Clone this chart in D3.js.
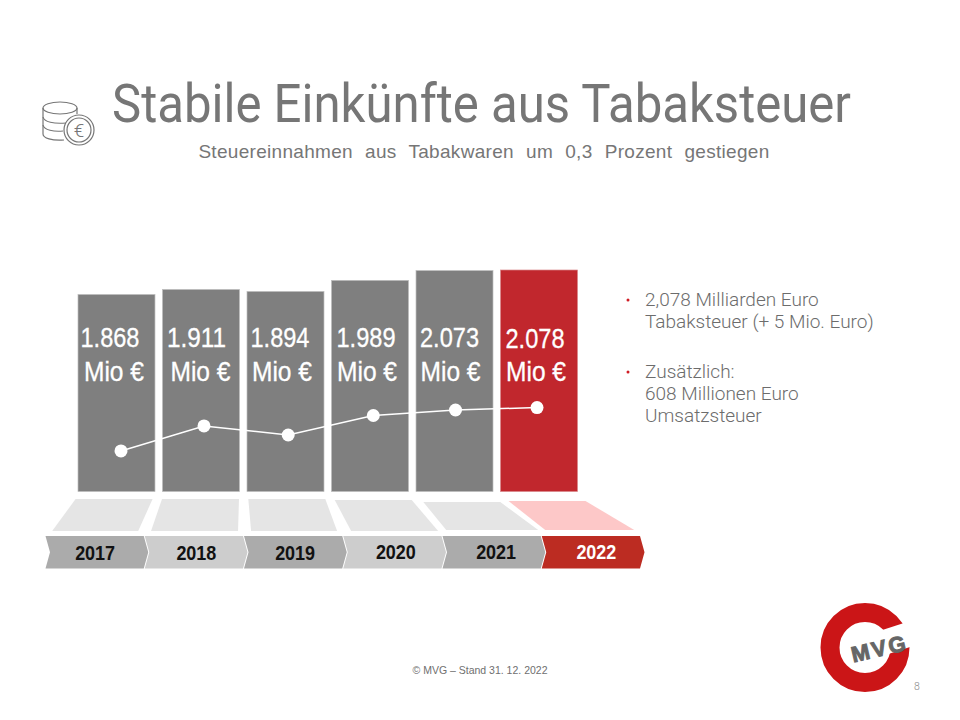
<!DOCTYPE html>
<html>
<head>
<meta charset="utf-8">
<script src="https://cdn.jsdelivr.net/npm/d3@7"></script>
<style>
  body { margin: 0; background: #fff; }
  svg { display: block; }
</style>
</head>
<body>
<script>
const w = 960;
const h = 720;

// data
const years = ['2017', '2018', '2019', '2020', '2021', '2022'];
const taxMio = [1868, 1911, 1894, 1989, 2073, 2078];
const trendLevel = [18.3, 29.6, 25.5, 34.3, 36.8, 37.9]; // white line, 0-100 of bar area
const bulletLines = [
  ['2,078 Milliarden Euro', 'Tabaksteuer (+ 5 Mio. Euro)'],
  ['Zusätzlich:', '608 Millionen Euro', 'Umsatzsteuer']
];

// hand placed bits of the slide, per year
const numberNudge = [-6.5, -4.5, -5.5, -4, -5, -4];
const mioNudge = [-2.5, -0.5, -3.5, -3, -4, -3];
const trendNudge = [4.5, 3, 2.7, 3.3, 1, -2];
const yearNudge = [0, 2, 1.5, 3, 4, 5];
const floorTop = [[-2.4, 499], [-0.5, 499], [1.3, 499], [3.2, 500], [7.3, 502], [8, 501]];
const floorBottom = [[6.7, 86, 531], [6.3, 87, 531], [7.1, 86, 531], [7.9, 87, 531], [3.7, 92, 530], [3.5, 89, 530]];

const grey = '#7f7f7f';
const red = '#c1272d';
const textGrey = '#767676';

const svg = d3.select('body').append('svg').attr('width', w).attr('height', h);

// scales
const xScale = d3.scaleBand().domain(years).range([78, 577.5]).paddingInner(0.089).paddingOuter(0);
const yScale = d3.scaleLinear().domain([180, 2078]).range([491.5, 270]); // bars are cut off, not from zero
const trendY = d3.scaleLinear().domain([0, 100]).range([491.5, 270]);
const ribbonX = d3.scaleBand().domain(years).range([45.5, 641]);
const de = d3.formatLocale({ decimal: ',', thousands: '.', grouping: [3], currency: ['', '€'] });
const fmt = de.format(',d');

// title
svg.append('text').attr('x', 112).attr('y', 122)
  .attr('textLength', 739).attr('lengthAdjust', 'spacingAndGlyphs')
  .style('font', '400 53px Roboto').attr('fill', textGrey)
  .text('Stabile Einkünfte aus Tabaksteuer');
svg.append('text').attr('x', 484).attr('y', 158).attr('text-anchor', 'middle')
  .style('font', '19px "Liberation Sans"').style('letter-spacing', '0.3px').style('word-spacing', '6.6px')
  .attr('fill', textGrey)
  .text('Steuereinnahmen aus Tabakwaren um 0,3 Prozent gestiegen');

// coin icon
const icon = svg.append('g').attr('fill', 'none').attr('stroke', textGrey).attr('stroke-width', 1.2);
icon.append('path').attr('d', 'M43,108 V134 C43,138 52,141 64,140');
icon.append('path').attr('d', 'M77,108 V114');
icon.append('ellipse').attr('cx', 60).attr('cy', 108).attr('rx', 17).attr('ry', 6);
icon.append('path').attr('d', 'M43,117 C44,122 54,124 66,123');
icon.append('path').attr('d', 'M43,125 C44,130 54,132 63,131');
icon.append('circle').attr('cx', 79).attr('cy', 130).attr('r', 15).attr('fill', '#fff');
icon.append('circle').attr('cx', 79).attr('cy', 130).attr('r', 12);
icon.append('text').attr('x', 79).attr('y', 136.5).attr('text-anchor', 'middle').attr('stroke', 'none')
  .attr('fill', textGrey).style('font', '300 19px Roboto').text('€');

// bars
svg.selectAll('rect.bar').data(years).enter().append('rect')
  .attr('class', 'bar')
  .attr('x', d => xScale(d))
  .attr('y', (d, i) => yScale(taxMio[i]))
  .attr('width', xScale.bandwidth())
  .attr('height', (d, i) => yScale.range()[0] - yScale(taxMio[i]))
  .attr('fill', (d, i) => i === 5 ? red : grey)
  .attr('stroke', (d, i) => i === 5 ? '#d9888b' : '#bdbdbd')
  .attr('stroke-width', 0.7);

// bar labels, squeezed since no narrow font is around
const labelFont = '27.5px "Liberation Sans"';
svg.selectAll('text.num').data(years).enter().append('text')
  .attr('class', 'num')
  .attr('x', (d, i) => xScale(d) + xScale.bandwidth() / 2 + numberNudge[i])
  .attr('y', (d, i) => i === 5 ? 348 : 347)
  .attr('text-anchor', 'middle').attr('fill', '#fff').attr('stroke', '#fff').attr('stroke-width', 0.3)
  .style('font', labelFont)
  .attr('textLength', 59).attr('lengthAdjust', 'spacingAndGlyphs')
  .text((d, i) => fmt(taxMio[i]));
svg.selectAll('text.mio').data(years).enter().append('text')
  .attr('class', 'mio')
  .attr('x', (d, i) => xScale(d) + xScale.bandwidth() / 2 + mioNudge[i])
  .attr('y', 381)
  .attr('text-anchor', 'middle').attr('fill', '#fff').attr('stroke', '#fff').attr('stroke-width', 0.3)
  .style('font', labelFont)
  .attr('textLength', 60).attr('lengthAdjust', 'spacingAndGlyphs')
  .text('Mio €');

// trend line
const trendXAt = i => xScale(years[i]) + xScale.bandwidth() / 2 + trendNudge[i];
const line = d3.line().x((d, i) => trendXAt(i)).y(d => trendY(d));
svg.append('path').attr('d', line(trendLevel)).attr('fill', 'none').attr('stroke', '#fff').attr('stroke-width', 1.5);
svg.selectAll('circle.dot').data(trendLevel).enter().append('circle')
  .attr('class', 'dot')
  .attr('cx', (d, i) => trendXAt(i))
  .attr('cy', d => trendY(d))
  .attr('r', 6.5)
  .attr('fill', '#fff');

// perspective floor under the bars
svg.selectAll('polygon.floor').data(years).enter().append('polygon')
  .attr('class', 'floor')
  .attr('points', (d, i) => {
    const x0 = xScale(d) + floorTop[i][0];
    const x1 = x0 + xScale.bandwidth();
    const yTop = floorTop[i][1];
    const bx = ribbonX(d) + floorBottom[i][0];
    const bx1 = bx + floorBottom[i][1];
    const yBot = floorBottom[i][2];
    return [[x0, yTop], [x1, yTop], [bx1, yBot], [bx, yBot]].join(' ');
  })
  .attr('fill', (d, i) => i === 5 ? '#fdc8c8' : '#e5e5e5');

// year ribbon
const ribbonTop = 536;
const ribbonBot = 568.5;
const tip = 4.5;
const ribbonPath = (d, i) => {
  const a = ribbonX(d);
  const b = a + ribbonX.bandwidth() - 1;
  const m = (ribbonTop + ribbonBot) / 2;
  return `M${a},${ribbonTop} L${b},${ribbonTop} L${b + tip},${m} L${b},${ribbonBot} L${a},${ribbonBot} L${a + tip},${m} Z`;
};
svg.selectAll('path.step').data(years).enter().append('path')
  .attr('class', 'step')
  .attr('d', ribbonPath)
  .attr('fill', (d, i) => i === 5 ? '#bc2c22' : (i % 2 ? '#cdcdcd' : '#ababab'));
svg.selectAll('text.year').data(years).enter().append('text')
  .attr('class', 'year')
  .attr('x', (d, i) => ribbonX(d) + ribbonX.bandwidth() / 2 + yearNudge[i])
  .attr('y', (d, i) => i < 3 ? 559.5 : 558.5)
  .attr('text-anchor', 'middle')
  .attr('fill', (d, i) => i === 5 ? '#fff' : '#111')
  .style('font', 'bold 19.5px "Liberation Sans"')
  .attr('textLength', 40).attr('lengthAdjust', 'spacingAndGlyphs')
  .text(d => d);

// side notes
const bulletY = [306, 378];
bulletLines.forEach((lines, k) => {
  svg.append('circle').attr('cx', 628).attr('cy', bulletY[k] - 6).attr('r', 1.5).attr('fill', '#d01c24');
  lines.forEach((t, j) => {
    svg.append('text').attr('x', 645).attr('y', bulletY[k] + j * 22)
      .style('font', '300 19px Roboto').attr('fill', '#6c6c6c').text(t);
  });
});

// footer
svg.append('text').attr('x', 480).attr('y', 674).attr('text-anchor', 'middle')
  .style('font', '10.5px "Liberation Sans"').attr('fill', '#6f6f6f')
  .text('© MVG – Stand 31. 12. 2022');
svg.append('text').attr('x', 917).attr('y', 690).attr('text-anchor', 'middle')
  .style('font', '300 10.5px Roboto').attr('fill', '#8a8a8a').text('8');

// logo
const logo = svg.append('g').attr('transform', 'translate(865,647.5)');
logo.append('circle').attr('r', 35).attr('fill', 'none').attr('stroke', '#cb1517').attr('stroke-width', 19);
logo.append('rect').attr('x', 0).attr('y', -11.2).attr('width', 60).attr('height', 24.6)
  .attr('transform', 'rotate(-18)').attr('fill', '#fff');
logo.append('text').attr('x', 14).attr('y', 12).attr('text-anchor', 'middle')
  .attr('transform', 'rotate(-13)')
  .style('font', 'bold 22px "Liberation Sans"').style('letter-spacing', '2.5px')
  .attr('fill', '#666').attr('stroke', '#666').attr('stroke-width', 1)
  .text('MVG');
</script>
</body>
</html>
